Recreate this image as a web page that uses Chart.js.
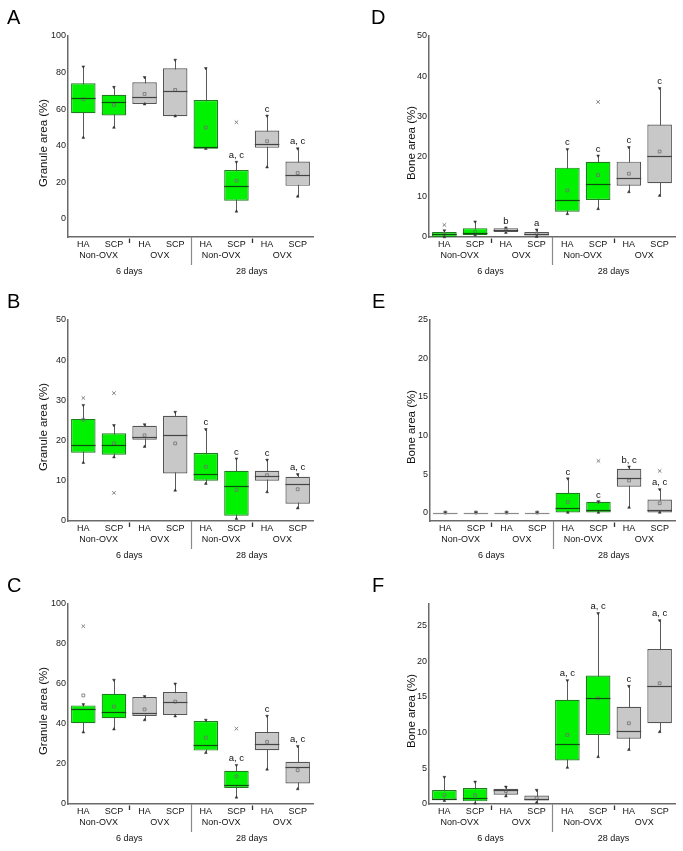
<!DOCTYPE html>
<html><head><meta charset="utf-8">
<script src="https://cdn.jsdelivr.net/npm/chart.js@4/dist/chart.umd.min.js"></script>
<style>
html,body{margin:0;padding:0;background:#fff;overflow:hidden;width:683px;height:851px}
.p{position:absolute}
canvas{display:block}
</style></head><body>
<div class="p" style="left:0;top:0"><canvas id="cA" width="341" height="284"></canvas></div>
<div class="p" style="left:341px;top:0"><canvas id="cD" width="342" height="284"></canvas></div>
<div class="p" style="left:0;top:284px"><canvas id="cB" width="341" height="284"></canvas></div>
<div class="p" style="left:341px;top:284px"><canvas id="cE" width="342" height="284"></canvas></div>
<div class="p" style="left:0;top:568px"><canvas id="cC" width="341" height="283"></canvas></div>
<div class="p" style="left:341px;top:568px"><canvas id="cF" width="342" height="283"></canvas></div>
<script>
// ---- categories / tick labels ----
const categories = ['HA','SCP','HA','SCP','HA','SCP','HA','SCP'];
const groupLabels = ['Non-OVX','OVX','Non-OVX','OVX'];
const timeLabels = ['6 days','28 days'];
const boxKinds = ['green','green','grey','grey','green','green','grey','grey'];

// ---- Panel A : Granule area (%) ----
const A_q1   = [57.7, 56.5, 62.8, 56.1, 38.3,  9.8, 38.8, 18.0];
const A_q3   = [74.1, 67.8, 74.7, 82.3, 65.0, 26.6, 48.3, 31.3];
const A_med  = [66.1, 64.1, 66.5, 69.9, 39.5, 18.0, 41.0, 24.0];
const A_mean = [65.4, 62.3, 68.3, 70.5, 49.9, 20.8, 42.4, 25.0];
const A_min  = [44.4, 49.9, 62.7, 56.1, 38.3,  4.0, 28.2, 12.2];
const A_max  = [83.2, 72.0, 77.4, 86.9, 82.3, 31.0, 56.3, 38.4];
const A_out  = [null, null, null, null, null, 52.8, null, null];
const A_sig  = ['', '', '', '', '', 'a, c', 'c', 'a, c'];
const A_ticks = [0, 20, 40, 60, 80, 100];

// ---- Panel B : Granule area (%) ----
const B_q1   = [17.0, 16.5, 20.2, 11.8, 10.0,  1.3, 10.0,  4.3];
const B_q3   = [25.4, 21.8, 23.7, 26.2, 16.9, 12.5, 12.5, 11.0];
const B_med  = [18.9, 19.0, 20.8, 21.5, 11.6,  8.7, 11.2,  9.1];
const B_mean = [25.2, 19.3, 21.3, 19.3, 13.5,  7.7, 11.4,  7.9];
const B_min  = [14.5, 15.9, 18.5,  7.6,  9.3,  0.6,  7.2,  3.2];
const B_max  = [28.8, 23.8, 24.0, 27.1, 22.8, 15.5, 15.2, 11.6];
const B_out1 = [30.6, 31.8, null, null, null, null, null, null];
const B_out2 = [null,  7.0, null, null, null, null, null, null];
const B_sig  = ['', '', '', '', 'c', 'c', 'c', 'a, c'];
const B_ticks = [0, 10, 20, 30, 40, 50];

// ---- Panel C : Granule area (%) ----
const C_q1   = [40.4, 42.9, 44.0, 44.5, 26.7,  8.0, 26.9, 10.3];
const C_q3   = [49.3, 55.1, 53.5, 56.0, 41.5, 16.6, 36.0, 21.1];
const C_med  = [47.3, 46.2, 45.7, 51.2, 29.7,  9.3, 30.2, 18.3];
const C_mean = [54.3, 48.7, 47.3, 51.2, 33.2, 13.8, 31.1, 16.9];
const C_min  = [35.9, 37.4, 42.0, 43.9, 25.6,  3.3, 17.3,  7.5];
const C_max  = [49.8, 62.0, 53.8, 60.1, 42.0, 19.4, 44.0, 28.9];
const C_out  = [88.9, null, null, null, null, 37.7, null, null];
const C_sig  = ['', '', '', '', '', 'a, c', 'c', 'a, c'];
const C_ticks = [0, 20, 40, 60, 80, 100];

// ---- Panel D : Bone area (%) ----
const D_q1   = [0.0, 0.5, 1.25, 0.4,  6.3,  9.2, 12.75, 13.4];
const D_q3   = [1.25, 2.2, 2.2, 1.25, 17.25, 18.7, 18.75, 28.0];
const D_med  = [0.7, 0.9, 1.75, 0.8,  9.25, 13.25, 14.6, 20.1];
const D_mean = [0.75, 1.3, 1.75, 0.85, 11.6, 15.4, 15.75, 21.25];
const D_min  = [0.0, 0.5, 1.1, 0.1,  5.75,  7.0, 11.2, 10.3];
const D_max  = [1.6, 3.8, 2.3, 1.8, 21.8, 20.2, 22.3, 37.0];
const D_out  = [3.0, null, null, null, null, 33.6, null, null];
const D_sig  = ['', '', 'b', 'a', 'c', 'c', 'c', 'c'];
const D_ticks = [0, 10, 20, 30, 40, 50];

// ---- Panel E : Bone area (%) ----
const E_q1   = [0, 0, 0, 0, 0.0,  0.0,  3.34, 0.0];
const E_q3   = [0, 0, 0, 0, 2.56, 1.39, 5.68, 1.69];
const E_med  = [0, 0, 0, 0, 0.65, 0.39, 4.46, 0.35];
const E_mean = [0, 0, 0, 0, 1.34, 1.39, 4.16, 1.21];
const E_min  = [0, 0, 0, 0, 0.0,  0.0,  0.65, 0.0];
const E_max  = [0, 0, 0, 0, 4.4,  1.4,  5.94, 3.0];
const E_out  = [null, null, null, null, null, 6.7, null, 5.4];
const E_sig  = ['', '', '', '', 'c', 'c', 'b, c', 'a, c'];
const E_ticks = [0, 5, 10, 15, 20, 25];

// ---- Panel F : Bone area (%) ----
const F_q1   = [0.6, 0.37, 1.3, 0.5,  6.1,  9.67,  9.15, 11.3];
const F_q3   = [1.95, 2.23, 2.14, 1.2, 14.6, 18.0, 13.6, 21.7];
const F_med  = [0.7, 0.84, 1.9, 0.7,  8.36, 14.9, 10.2, 16.5];
const F_mean = [1.25, 1.25, 1.8, 0.84, 9.67, 14.8, 11.3, 16.9];
const F_min  = [0.46, 0.1, 1.1, 0.2,  5.1,  6.6,  7.6, 10.1];
const F_max  = [3.76, 3.1, 2.4, 1.95, 17.3, 26.7, 16.5, 25.7];
const F_sig  = ['', '', '', '', 'a, c', 'a, c', 'c', 'a, c'];
const F_ticks = [0, 5, 10, 15, 20, 25];

// ---- styling ----
const FONT = '"Liberation Sans", Arial, Helvetica, sans-serif';
const STYLE = {
  green: { fill: '#00f200', edge: '#1f7d1f', med: '#0d4d0d' },
  grey:  { fill: '#c8c8c8', edge: '#555555', med: '#444444' }
};
const AXIS = '#6a6a6a';
const TEXT = '#111';

function makePlugin(P) {
  return {
    id: 'boxExtras' + P.letter,
    beforeDatasetsDraw(chart) {
      const ctx = chart.ctx, x = chart.scales.x, y = chart.scales.y;
      ctx.save();
      ctx.strokeStyle = '#5a5a5a';
      ctx.lineWidth = 1;
      P.min.forEach((v, i) => {
        const px = Math.round(x.getPixelForValue(i)) + 0.5;
        ctx.beginPath();
        ctx.moveTo(px, y.getPixelForValue(v));
        ctx.lineTo(px, y.getPixelForValue(P.max[i]));
        ctx.stroke();
      });
      ctx.restore();
    },
    afterDatasetsDraw(chart) {
      const ctx = chart.ctx, y = chart.scales.y;
      const bars = chart.getDatasetMeta(0).data;
      ctx.save();
      ctx.lineWidth = 1.2;
      P.med.forEach((v, i) => {
        const b = bars[i];
        const flat = P.q1[i] === P.q3[i];
        ctx.strokeStyle = flat ? '#8a8a8a' : STYLE[boxKinds[i]].med;
        const py = Math.round(y.getPixelForValue(v)) + 0.5;
        ctx.beginPath();
        ctx.moveTo(b.x - b.width / 2, py);
        ctx.lineTo(b.x + b.width / 2, py);
        ctx.stroke();
      });
      ctx.fillStyle = TEXT;
      ctx.font = '9.5px ' + FONT;
      ctx.textAlign = 'center';
      ctx.textBaseline = 'bottom';
      P.sig.forEach((s, i) => {
        if (!s) return;
        ctx.fillText(s, bars[i].x, y.getPixelForValue(P.max[i]) - 2);
      });
      ctx.restore();
    },
    afterDraw(chart) {
      const ctx = chart.ctx, x = chart.scales.x;
      const base = chart.chartArea.bottom;
      ctx.save();
      ctx.fillStyle = TEXT;
      ctx.font = '9px ' + FONT;
      ctx.textAlign = 'center';
      ctx.textBaseline = 'middle';
      groupLabels.forEach((g, k) => {
        const cx = (x.getPixelForValue(2 * k) + x.getPixelForValue(2 * k + 1)) / 2;
        ctx.fillText(g, cx, base + 19);
      });
      timeLabels.forEach((t, k) => {
        const cx = (x.getPixelForValue(4 * k) + x.getPixelForValue(4 * k + 3)) / 2;
        ctx.fillText(t, cx, base + 35);
      });
      // separators
      const sep = Math.round((x.getPixelForValue(3) + x.getPixelForValue(4)) / 2) + 0.5;
      ctx.strokeStyle = '#8a8a8a';
      ctx.lineWidth = 1.2;
      ctx.beginPath(); ctx.moveTo(sep, base); ctx.lineTo(sep, base + 28); ctx.stroke();
      ctx.strokeStyle = '#333';
      ctx.lineWidth = 1.3;
      [[1, 2], [5, 6]].forEach(([a, b]) => {
        const sx = Math.round((x.getPixelForValue(a) + x.getPixelForValue(b)) / 2) + 0.5;
        ctx.beginPath(); ctx.moveTo(sx, base + 1.5); ctx.lineTo(sx, base + 6); ctx.stroke();
      });
      // y title
      ctx.save();
      ctx.translate(P.titleX, 143);
      ctx.rotate(-Math.PI / 2);
      ctx.font = '11.5px ' + FONT;
      ctx.fillStyle = TEXT;
      ctx.fillText(P.title, 0, 0);
      ctx.restore();
      // panel letter
      ctx.font = '20px ' + FONT;
      ctx.fillStyle = '#000';
      ctx.textAlign = 'left';
      ctx.textBaseline = 'alphabetic';
      ctx.fillText(P.letter, P.letterX, 24);
      ctx.restore();
    }
  };
}

function makeChart(id, P, W) {
  const fill = boxKinds.map(k => STYLE[k].fill);
  const edge = boxKinds.map(k => STYLE[k].edge);
  const markerBase = { type: 'line', showLine: false, clip: false, pointHoverRadius: 0 };
  const datasets = [
    { type: 'bar', data: P.q1.map((v, i) => [v, P.q3[i]]), backgroundColor: fill, borderColor: edge,
      borderWidth: 1.2, borderSkipped: false, barPercentage: 0.8, categoryPercentage: 1, order: 5 },
    Object.assign({}, markerBase, { data: P.max, pointStyle: 'triangle', pointRotation: 180, pointRadius: 1.6,
      pointBackgroundColor: '#333', pointBorderColor: '#333', pointBorderWidth: 0.5, order: 2 }),
    Object.assign({}, markerBase, { data: P.min, pointStyle: 'triangle', pointRotation: 0, pointRadius: 1.6,
      pointBackgroundColor: '#333', pointBorderColor: '#333', pointBorderWidth: 0.5, order: 2 }),
    Object.assign({}, markerBase, { data: P.mean, pointStyle: 'rect', pointRadius: 2,
      pointBackgroundColor: 'rgba(0,0,0,0)', pointBorderColor: '#707070', pointBorderWidth: 0.8, order: 1 })
  ];
  P.out.forEach(arr => datasets.push(Object.assign({}, markerBase, { data: arr, pointStyle: 'crossRot',
    pointRadius: 2.5, pointBorderColor: '#808080', pointBorderWidth: 1, order: 0 })));

  new Chart(document.getElementById(id), {
    type: 'bar',
    data: { labels: categories, datasets },
    options: {
      responsive: false, animation: false, devicePixelRatio: 1,
      events: [],
      layout: { padding: { left: P.left - 30, right: W - P.right, top: 36, bottom: 7 } },
      plugins: { legend: { display: false }, tooltip: { enabled: false } },
      scales: {
        x: { type: 'category', offset: true,
             grid: { display: false, drawTicks: false },
             border: { display: true, color: AXIS, width: 1.5 },
             ticks: { font: { family: FONT, size: 9 }, color: TEXT, padding: 2, maxRotation: 0, autoSkip: false },
             afterFit: s => { s.height = 40; } },
        y: { type: 'linear', min: P.yMin, max: P.yMax, bounds: 'data',
             grid: { display: false, drawTicks: false },
             border: { display: true, color: AXIS, width: 1.5 },
             ticks: { font: { family: FONT, size: 9 }, color: '#222', padding: 2, callback: v => String(v) },
             afterBuildTicks: s => { s.ticks = P.ticks.map(v => ({ value: v })); },
             afterFit: s => { s.width = 30; } }
      }
    },
    plugins: [makePlugin(P)]
  });
}

const GRAN = 'Granule area (%)', BONE = 'Bone area (%)';
makeChart('cA', { letter: 'A', letterX: 7, title: GRAN, titleX: 44, left: 68, right: 313, yMin: -10, yMax: 100, ticks: A_ticks,
  q1: A_q1, q3: A_q3, med: A_med, mean: A_mean, min: A_min, max: A_max, out: [A_out], sig: A_sig }, 341);
makeChart('cB', { letter: 'B', letterX: 7, title: GRAN, titleX: 44, left: 68, right: 313, yMin: 0, yMax: 50, ticks: B_ticks,
  q1: B_q1, q3: B_q3, med: B_med, mean: B_mean, min: B_min, max: B_max, out: [B_out1, B_out2], sig: B_sig }, 341);
makeChart('cC', { letter: 'C', letterX: 7, title: GRAN, titleX: 44, left: 68, right: 313, yMin: 0, yMax: 100, ticks: C_ticks,
  q1: C_q1, q3: C_q3, med: C_med, mean: C_mean, min: C_min, max: C_max, out: [C_out], sig: C_sig }, 341);
makeChart('cD', { letter: 'D', letterX: 30, title: BONE, titleX: 71, left: 88, right: 334, yMin: 0, yMax: 50, ticks: D_ticks,
  q1: D_q1, q3: D_q3, med: D_med, mean: D_mean, min: D_min, max: D_max, out: [D_out], sig: D_sig }, 342);
makeChart('cE', { letter: 'E', letterX: 31, title: BONE, titleX: 71, left: 89, right: 334, yMin: -1.1, yMax: 25, ticks: E_ticks,
  q1: E_q1, q3: E_q3, med: E_med, mean: E_mean, min: E_min, max: E_max, out: [E_out], sig: E_sig }, 342);
makeChart('cF', { letter: 'F', letterX: 31, title: BONE, titleX: 71, left: 88, right: 334, yMin: 0, yMax: 28, ticks: F_ticks,
  q1: F_q1, q3: F_q3, med: F_med, mean: F_mean, min: F_min, max: F_max, out: [], sig: F_sig }, 342);
</script>
</body></html>
